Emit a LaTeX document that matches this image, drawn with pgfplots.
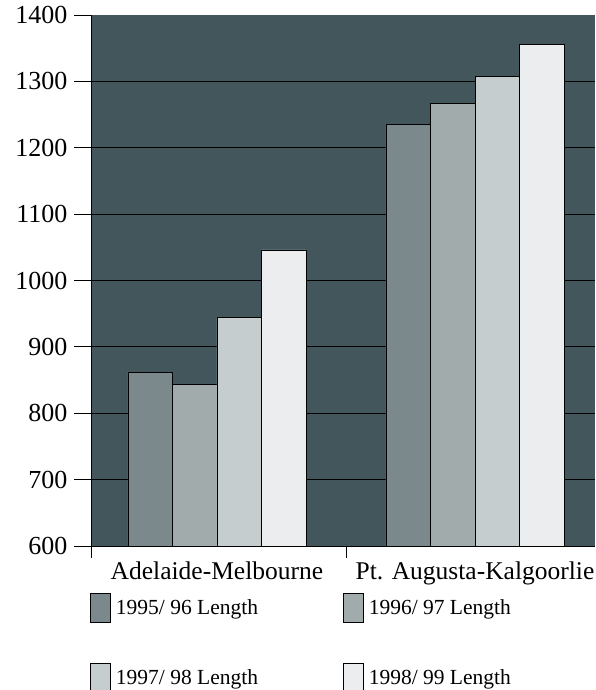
\documentclass[border=0pt]{standalone}
\usepackage{pgfplots}
\pgfplotsset{compat=1.18}
\usepackage{fontspec}
\setmainfont{Liberation Serif}
\definecolor{bgc}{RGB}{66,86,92}
\definecolor{c1}{RGB}{124,137,140}
\definecolor{c2}{RGB}{161,171,172}
\definecolor{c3}{RGB}{198,205,207}
\definecolor{c4}{RGB}{236,237,239}
\begin{document}
\begin{tikzpicture}
\begin{axis}[
  name=ax,
  at={(0pt,0pt)}, anchor=south west,
  scale only axis,
  width=504pt, height=531pt,
  xmin=-0.488, xmax=1.465,
  ymin=600, ymax=1400,
  ybar=0pt, bar width=0.1725,
  axis background/.style={fill=bgc},
  axis x line*=bottom, axis y line*=left,
  axis line style={black, line width=0.8pt},
  /pgf/number format/assume math mode=true,
  /pgf/number format/1000 sep={},
  xtick={0,1},
  xticklabels={Adelaide-Melbourne, Pt. Augusta-Kalgoorlie},
  x tick label style={font=\fontsize{25.5}{28}\selectfont, yshift=5pt},
  xtick style={draw=none},
  extra x ticks={-0.488,0.5},
  extra x tick labels={},
  extra x tick style={xtick style={draw=black, line width=0.8pt}, major tick length=12pt, tick align=outside},
  ytick={600,700,...,1400},
  y tick label style={font=\fontsize{26}{28}\selectfont, xshift=-3pt},
  ytick style={black, line width=0.8pt},
  major tick length=17pt,
  tick align=outside,
  extra y ticks={700,800,...,1300},
  extra y tick labels={},
  extra y tick style={ymajorgrids=true, major tick length=0pt},
  major grid style={black, line width=0.9pt},
  legend columns=2,
  legend cell align=left,
  legend style={draw=none, fill=none, at={(-0.0020,-0.0885)}, anchor=north west,
    font=\fontsize{21.5}{24}\selectfont, inner sep=0pt,
    row sep=40pt},
  legend image code/.code={\draw[#1,line width=0.8pt] (0pt,-14.5pt) rectangle (20pt,14.5pt);},
]
\addplot[fill=c1, draw=black, line width=0.8pt] coordinates {(0,862) (1,1235)};
\addplot[fill=c2, draw=black, line width=0.8pt] coordinates {(0,844) (1,1267)};
\addplot[fill=c3, draw=black, line width=0.8pt] coordinates {(0,944) (1,1308)};
\addplot[fill=c4, draw=black, line width=0.8pt] coordinates {(0,1046) (1,1356)};
\legend{\makebox[228pt][l]{\kern3pt 1995/ 96 Length}, \kern3pt 1996/ 97 Length, \makebox[228pt][l]{\kern3pt 1997/ 98 Length}, \kern3pt 1998/ 99 Length}
\end{axis}
\pgfresetboundingbox
\path (-91pt,-144pt) rectangle (504pt,546pt);
\end{tikzpicture}
\end{document}
